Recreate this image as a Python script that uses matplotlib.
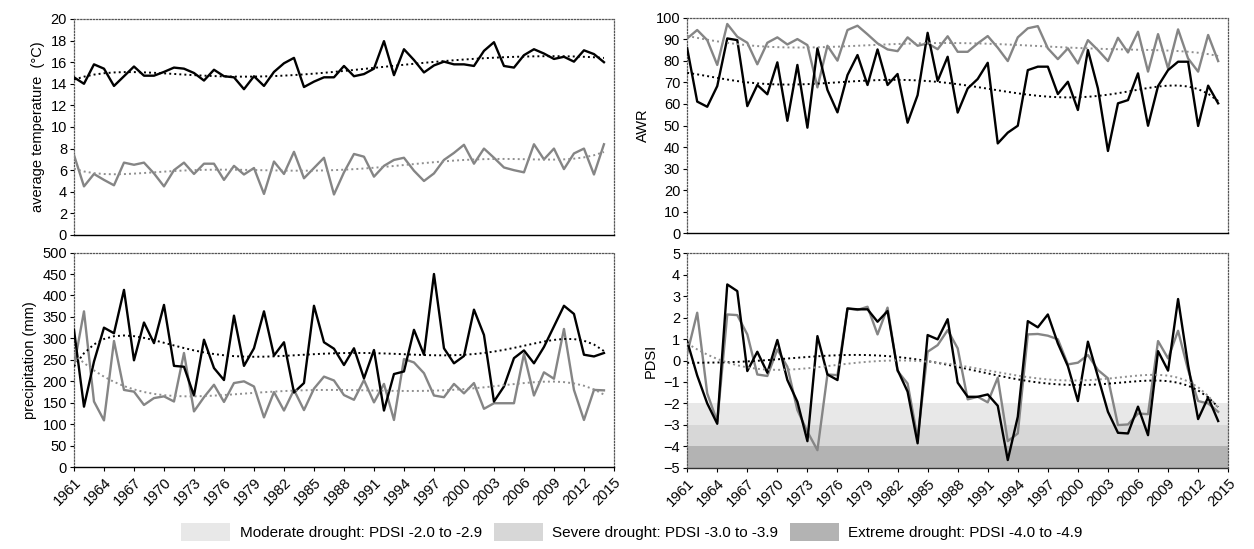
import numpy as np
import matplotlib
matplotlib.use("Agg")
import matplotlib.pyplot as plt
from matplotlib.patches import Patch

plt.rcParams['font.family'] = ['Liberation Sans', 'DejaVu Sans']

years = np.arange(1961, 2015)

temp_black = [14.6, 14.0, 15.8, 15.4, 13.8, 14.7, 15.6, 14.75, 14.75, 15.1,
              15.5, 15.4, 15.0, 14.3, 15.3, 14.7, 14.6, 13.5, 14.7, 13.8,
              15.1, 15.9, 16.4, 13.7, 14.2, 14.6, 14.6, 15.65, 14.7, 14.9,
              15.4, 17.95, 14.8, 17.2, 16.2, 15.05, 15.7, 16.05, 15.8, 15.8,
              15.65, 17.05, 17.85, 15.65, 15.5, 16.65, 17.2, 16.8, 16.3, 16.5,
              16.05, 17.1, 16.75, 16.0]
temp_gray = [7.4, 4.5, 5.65, 5.1, 4.6, 6.7, 6.5, 6.7, 5.7, 4.5,
             6.0, 6.7, 5.65, 6.6, 6.6, 5.1, 6.4, 5.6, 6.2, 3.8,
             6.8, 5.65, 7.7, 5.25, 6.2, 7.15, 3.75, 5.8, 7.5, 7.25,
             5.4, 6.4, 6.95, 7.15, 5.95, 5.0, 5.7, 6.95, 7.6, 8.35,
             6.6, 8.0, 7.15, 6.25, 6.0, 5.8, 8.4, 7.0, 8.0, 6.1,
             7.55, 8.0, 5.6, 8.4]

precip_black = [320, 141, 246, 325, 312, 413, 249, 337, 289, 378,
                236, 234, 167, 297, 231, 203, 353, 236, 277, 363,
                260, 291, 174, 196, 376, 291, 276, 238, 277, 207,
                273, 132, 217, 223, 320, 262, 450, 277, 242, 259,
                367, 308, 153, 188, 254, 272, 242, 280, 328, 376,
                357, 262, 258, 266]
precip_gray = [235, 363, 153, 109, 294, 180, 176, 145, 161, 165,
               153, 266, 130, 163, 192, 152, 196, 200, 188, 116,
               175, 132, 180, 133, 183, 211, 202, 168, 157, 203,
               151, 194, 110, 252, 244, 219, 167, 163, 194, 172,
               196, 136, 149, 149, 149, 264, 167, 221, 206, 322,
               180, 110, 180, 179]

awr_black = [85.8, 61.1, 58.7, 68.3, 90.4, 89.6, 59.0, 68.8, 64.5, 79.3,
             52.2, 78.1, 49.0, 85.8, 66.5, 56.1, 73.4, 82.7, 68.8, 85.3,
             68.8, 73.9, 51.3, 64.1, 93.0, 70.7, 81.9, 56.0, 67.2, 71.6,
             79.1, 41.7, 46.7, 49.9, 75.7, 77.3, 77.3, 64.6, 70.3, 57.2,
             85.0, 67.2, 38.2, 60.3, 61.8, 74.2, 49.9, 68.3, 75.7, 79.6,
             79.6, 49.8, 68.5, 60.3]
awr_gray = [90.4, 94.3, 89.6, 78.1, 97.1, 91.2, 88.4, 78.4, 88.4, 90.9,
            87.6, 90.1, 87.3, 67.7, 87.0, 80.1, 94.3, 96.3, 92.3, 88.1,
            85.3, 84.5, 90.9, 87.0, 88.1, 85.4, 91.4, 84.2, 84.2, 88.1,
            91.5, 86.1, 79.9, 90.9, 95.1, 96.1, 85.8, 80.8, 85.8, 78.8,
            89.6, 85.0, 79.9, 90.7, 83.9, 93.5, 75.0, 92.4, 76.5, 94.6,
            81.1, 75.0, 92.0, 79.9]

pdsi_black = [0.9, -0.7, -2.0, -2.95, 3.55, 3.24, -0.49, 0.41, -0.57, 0.96,
              -0.91, -1.92, -3.76, 1.14, -0.65, -0.91, 2.43, 2.39, 2.39, 1.81,
              2.31, -0.44, -1.45, -3.86, 1.19, 0.99, 1.93, -1.03, -1.69, -1.69,
              -1.58, -2.11, -4.64, -2.62, 1.84, 1.55, 2.15, 0.80, -0.26, -1.89,
              0.88, -0.75, -2.39, -3.37, -3.40, -2.15, -3.48, 0.44, -0.47, 2.87,
              -0.21, -2.73, -1.72, -2.82]
pdsi_gray = [0.33, 2.23, -1.53, -2.85, 2.15, 2.12, 1.22, -0.65, -0.72, 0.52,
             -0.29, -2.31, -3.32, -4.18, -0.65, -0.68, 2.43, 2.36, 2.51, 1.22,
             2.47, -0.49, -1.07, -3.63, 0.41, 0.72, 1.42, 0.57, -1.81, -1.69,
             -1.95, -0.80, -3.76, -3.40, 1.22, 1.24, 1.16, 0.99, -0.18, -0.10,
             0.26, -0.44, -0.83, -3.01, -2.98, -2.47, -2.50, 0.91, 0.10, 1.39,
             -0.44, -1.89, -2.0, -2.39]

drought_labels = ["Moderate drought: PDSI -2.0 to -2.9",
                  "Severe drought: PDSI -3.0 to -3.9",
                  "Extreme drought: PDSI -4.0 to -4.9"]
drought_bands = [(-3.0, -2.0), (-4.0, -3.0), (-5.0, -4.0)]
drought_colors = ["#e8e8e8", "#d7d7d7", "#b3b3b3"]

GRAY = "#858585"
xticks = np.arange(1961, 2016, 3)


def trend(values):
    # poly trend line, like the spreadsheet one
    x = (years - years.mean()) / 10.0
    c = np.polyfit(x, values, 6)
    return np.polyval(c, x)


def setup(ax, ylim, ystep, ylabel, show_x, dotted_bottom=False):
    ax.set_xlim(1961, 2015)
    ax.set_ylim(*ylim)
    ax.set_yticks(np.arange(ylim[0], ylim[1] + ystep / 2, ystep))
    for s in ["top", "right", "left"]:
        ax.spines[s].set_linestyle((0, (1, 1.5)))
        ax.spines[s].set_color("#555555")
        ax.spines[s].set_linewidth(0.9)
    if dotted_bottom:
        ax.spines["bottom"].set_linestyle((0, (1, 1)))
        ax.spines["bottom"].set_color("#333333")
    else:
        ax.spines["bottom"].set_color("black")
    ax.spines["bottom"].set_linewidth(1.0)
    ax.tick_params(axis="y", labelsize=10.5, length=3, width=0.8, pad=2)
    ax.set_ylabel(ylabel, fontsize=10.5, labelpad=4)
    if show_x:
        ax.set_xticks(xticks)
        ax.set_xticklabels([str(y) for y in xticks], rotation=45,
                           ha="right", rotation_mode="anchor", fontsize=10.5)
        ax.tick_params(axis="x", length=3, width=0.8, pad=3)
    else:
        ax.set_xticks([])


def draw(ax, black, gray):
    ax.plot(years, black, color="black", lw=1.7, zorder=4)
    ax.plot(years, gray, color=GRAY, lw=1.7, zorder=3)
    ax.plot(years, trend(black), color="black", lw=1.4, ls=(0, (1, 1.6)), zorder=5)
    ax.plot(years, trend(gray), color="#8f8f8f", lw=1.4, ls=(0, (1, 1.6)), zorder=5)


fig = plt.figure(figsize=(12.54, 5.49), dpi=100)
ax_t = fig.add_axes([0.059, 0.572, 0.4306, 0.3934])
ax_p = fig.add_axes([0.059, 0.149, 0.4306, 0.391])
ax_a = fig.add_axes([0.548, 0.575, 0.4314, 0.3927])
ax_d = fig.add_axes([0.548, 0.148, 0.4314, 0.3905])

draw(ax_t, temp_black, temp_gray)
setup(ax_t, (0, 20), 2, "average temperature  (°C)", False)

draw(ax_p, precip_black, precip_gray)
setup(ax_p, (0, 500), 50, "precipitation (mm)", True)

draw(ax_a, awr_black, awr_gray)
setup(ax_a, (0, 100), 10, "AWR", False)

for (lo, hi), c in zip(drought_bands, drought_colors):
    ax_d.axhspan(lo, hi, color=c, lw=0, zorder=1)
draw(ax_d, pdsi_black, pdsi_gray)
setup(ax_d, (-5, 5), 1, "PDSI", True, dotted_bottom=True)

handles = [Patch(facecolor=c, edgecolor="none") for c in drought_colors]
fig.legend(handles, drought_labels, loc="lower center", bbox_to_anchor=(0.504, -0.01),
           ncol=3, frameon=False, fontsize=11, handlelength=3.2, handleheight=1.4,
           columnspacing=0.8, handletextpad=0.6)

fig.savefig("out.png", dpi=100)
